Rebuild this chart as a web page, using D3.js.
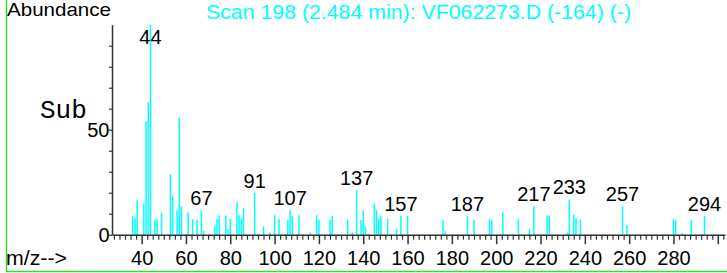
<!DOCTYPE html>
<html>
<head>
<meta charset="utf-8">
<script src="https://cdn.jsdelivr.net/npm/d3@7"></script>
<style>
  body { margin: 0; background: #fff; }
  svg { display: block; font-family: "Liberation Sans", Arial, sans-serif; }
</style>
</head>
<body>
<div class="canvas"></div>
<script>
// spectrum data
const mzValues = [36, 37, 38, 41, 42, 43, 44, 46, 47, 49, 53, 54, 56, 57, 58, 61, 63, 65, 67, 68,
  73, 74, 75, 78, 79, 80, 83, 84, 85, 86, 91, 95, 98, 100, 102, 106, 107, 108, 111,
  116, 119, 120, 125, 126, 133, 135, 137, 139, 140, 141, 145, 146, 147, 148, 151,
  155, 157, 160, 176, 177, 187, 190, 197, 198, 203, 210, 215, 217, 223, 224,
  232, 233, 235, 236, 238, 257, 259, 280, 281, 284, 288, 294];
const abundance = [9, 7.8, 16.8, 14.9, 54, 63, 100, 7, 7.3, 10.6, 28.8, 18.5, 11.7, 55.7, 13.6, 10.6, 7.5, 7, 11.7, 1.8,
  4.1, 7.5, 9.3, 9.3, 2.6, 7.5, 15.5, 9.3, 7.8, 12.5, 20, 4, 1, 9.3, 7.5, 7, 11.7, 9, 9.3,
  1, 9.3, 7, 7, 9, 7, 1, 21.2, 7, 11.7, 4, 14.9, 11.7, 7.8, 9, 7.5,
  2.7, 9, 9, 7, 1.6, 9, 7, 7.5, 7, 10.6, 7.5, 2.7, 13.6, 8.9, 9.3,
  1, 16.8, 9.5, 7.8, 7.2, 13.6, 4.5, 7.5, 7, 0.8, 7, 8.9];
const peakLabels = [44, 67, 91, 107, 137, 157, 187, 217, 233, 257, 294];
const majorTicks = d3.range(40, 301, 20);
const tickLabels = d3.range(40, 281, 20);
const yTicks = d3.range(0, 100, 10);
const yTickLabels = [0, 50];
const title = "Scan 198 (2.484 min): VF062273.D (-164) (-)";

const data = mzValues.map((m, i) => ({ mz: m, ab: abundance[i] }));

const width = 727;
const height = 273;
const cyan = "#00ffff";

const x = d3.scaleLinear().domain([26.63, 303.25]).range([112, 725]);
const y = d3.scaleLinear().domain([0, 100]).range([234.7, 24.7]);

const svg = d3.select(".canvas").append("svg")
  .attr("width", width)
  .attr("height", height);

svg.append("rect").attr("width", width).attr("height", height).attr("fill", "#fff");

// green frame
svg.append("path")
  .attr("d", "M6.5,0 V271.5 H727")
  .attr("fill", "none")
  .attr("stroke", "#33dd33")
  .attr("stroke-width", 1.5);

// bars
svg.selectAll(".bar")
  .data(data)
  .join("line")
    .attr("class", "bar")
    .attr("x1", d => x(d.mz))
    .attr("x2", d => x(d.mz))
    .attr("y1", y(0))
    .attr("y2", d => y(d.ab))
    .attr("stroke", cyan)
    .attr("stroke-width", 1.5);

// y axis
const gy = svg.append("g")
  .attr("transform", translate(112, 0))
  .call(d3.axisLeft(y).tickValues(yTicks).tickSize(3).tickSizeOuter(0)
    .tickFormat(d => yTickLabels.includes(d) ? d : ""));
gy.select(".domain").attr("stroke", "#333").attr("stroke-width", 1.5);
gy.selectAll(".tick line").attr("stroke", "#333").attr("stroke-width", 1.2);
gy.selectAll(".tick text")
  .attr("x", -2.5)
  .attr("font-size", 20)
  .attr("font-family", "Liberation Sans, Arial, sans-serif")
  .attr("fill", "#000");

// x axis, minor ticks every 2.5
const minorTicks = d3.range(27.5, 303, 2.5).filter(v => v % 20 !== 0);
const gxMinor = svg.append("g")
  .attr("transform", translate(0, y(0)))
  .call(d3.axisBottom(x).tickValues(minorTicks).tickSize(5).tickSizeOuter(0).tickFormat(""));
gxMinor.select(".domain").attr("stroke", "#333").attr("stroke-width", 1.5);
gxMinor.selectAll(".tick line").attr("stroke", "#333").attr("stroke-width", 1.2);

const gx = svg.append("g")
  .attr("transform", translate(0, y(0)))
  .call(d3.axisBottom(x).tickValues(majorTicks).tickSize(9.5)
    .tickFormat(d => tickLabels.includes(d) ? d : ""));
gx.select(".domain").remove();
gx.selectAll(".tick line").attr("stroke", "#333").attr("stroke-width", 1.5);
gx.selectAll(".tick text")
  .attr("y", 30.3)
  .attr("dy", null)
  .attr("font-size", 20)
  .attr("font-family", "Liberation Sans, Arial, sans-serif")
  .attr("fill", "#000");

// peak labels
svg.selectAll(".plabel")
  .data(data.filter(d => peakLabels.includes(d.mz)))
  .join("text")
    .attr("class", "plabel")
    .attr("x", d => x(d.mz))
    .attr("y", d => Math.max(y(d.ab) - 5, 43.5))
    .attr("text-anchor", "middle")
    .attr("font-size", 20)
    .text(d => d.mz);

// texts
svg.append("text")
  .attr("x", 7).attr("y", 16)
  .attr("font-size", 19)
  .attr("textLength", 104).attr("lengthAdjust", "spacingAndGlyphs")
  .text("Abundance");

svg.append("text")
  .attr("x", 206).attr("y", 18.5)
  .attr("font-size", 20)
  .attr("fill", cyan)
  .attr("textLength", 425).attr("lengthAdjust", "spacingAndGlyphs")
  .text(title);

svg.append("text")
  .attr("x", 40).attr("y", 118)
  .attr("font-family", "Courier New, Liberation Mono, monospace")
  .attr("font-size", 26)
  .text("Sub");

svg.append("text")
  .attr("x", 6).attr("y", 265)
  .attr("font-size", 20)
  .attr("textLength", 61).attr("lengthAdjust", "spacingAndGlyphs")
  .text("m/z-->");

function translate(x, y) {
  return "translate(" + x + ", " + y + ")";
}
</script>
</body>
</html>
